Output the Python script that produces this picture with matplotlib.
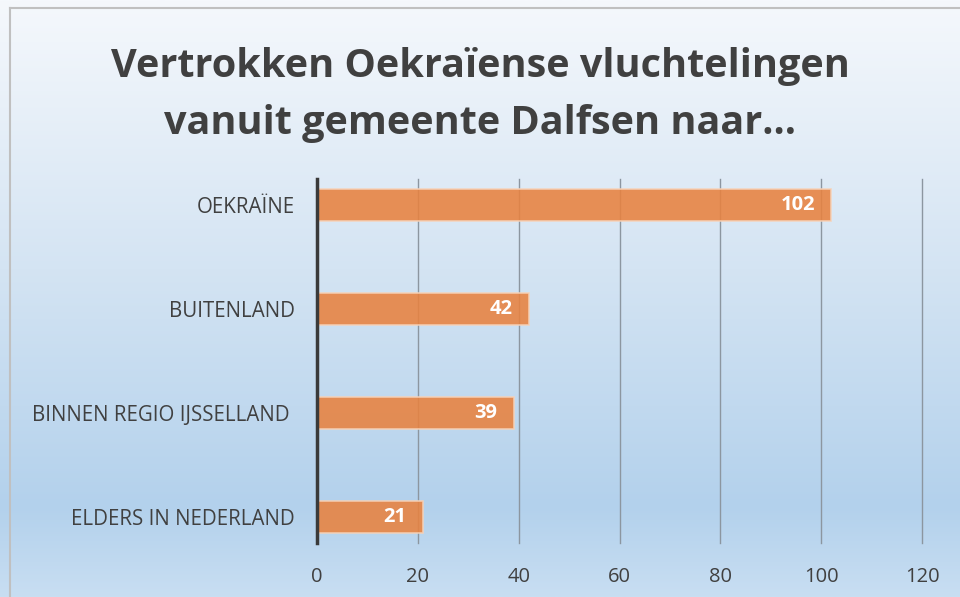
import matplotlib
matplotlib.use("Agg")
import matplotlib.pyplot as plt
import numpy as np
from matplotlib.colors import LinearSegmentedColormap

categories = ["OEKRAÏNE", "BUITENLAND", "BINNEN REGIO IJSSELLAND ", "ELDERS IN NEDERLAND"]
values = [102, 42, 39, 21]
xticks = [0, 20, 40, 60, 80, 100, 120]
title = "Vertrokken Oekraïense vluchtelingen\nvanuit gemeente Dalfsen naar..."

W, H = 960, 597
fig = plt.figure(figsize=(W / 100, H / 100), dpi=100)

# background gradient
bg = fig.add_axes([0, 0, 1, 1], zorder=-10)
cmap = LinearSegmentedColormap.from_list(
    "bg", [(0.0, "#f5f8fc"), (0.45, "#d4e4f3"), (0.85, "#b3d1ec"), (1.0, "#c8def2")])
grad = np.linspace(0, 1, 256).reshape(-1, 1)
bg.imshow(grad, aspect="auto", cmap=cmap, extent=[0, 1, 0, 1], origin="upper")
bg.set_xlim(0, 1); bg.set_ylim(0, 1)
bg.axis("off")
# frame border
bg.plot([10 / W, 10 / W], [0, 1 - 8 / H], color="#c0c0c0", lw=1.5)
bg.plot([10 / W, 1], [1 - 8 / H, 1 - 8 / H], color="#c0c0c0", lw=1.5)

ax = fig.add_axes([317 / W, 1 - 543 / H, 605 / W, 364 / H])
ax.patch.set_alpha(0)
y = np.arange(len(categories))
bars = ax.barh(y, values, height=0.31, color="#e8823f", alpha=0.88,
               edgecolor="#f6d2b8", linewidth=1.2, zorder=3)
ax.set_ylim(3.25, -0.25)
ax.set_xlim(0, 120)
ax.set_xticks(xticks)
ax.set_yticks(y)
ax.set_yticklabels(categories, fontfamily="Open Sans", fontsize=14.8, color="#404040")
ax.tick_params(axis="y", length=0, pad=16)
ax.tick_params(axis="x", length=0, pad=17, labelsize=14.5, labelcolor="#404040")
for lab in ax.get_xticklabels():
    lab.set_fontfamily("Open Sans")
ax.grid(axis="x", color="#8c96a0", lw=1, zorder=1)
for gl in ax.get_xgridlines():
    gl.set_clip_on(False)
for s in ["top", "right", "bottom"]:
    ax.spines[s].set_visible(False)
ax.spines["left"].set_color("#3a3a3a")
ax.spines["left"].set_linewidth(2.5)
ax.spines["left"].set_zorder(5)

for b, v in zip(bars, values):
    ax.text(v - 3.2, b.get_y() + b.get_height() / 2, str(v), ha="right", va="center",
            color="white", fontsize=14.5, fontweight="bold", fontfamily="Open Sans", zorder=6)

fig.text(0.5, 1 - 95 / H, title, ha="center", va="center", fontsize=28.5,
         fontweight="bold", fontfamily="Open Sans", color="#404040", linespacing=1.62)

fig.savefig("out.png", dpi=100)
